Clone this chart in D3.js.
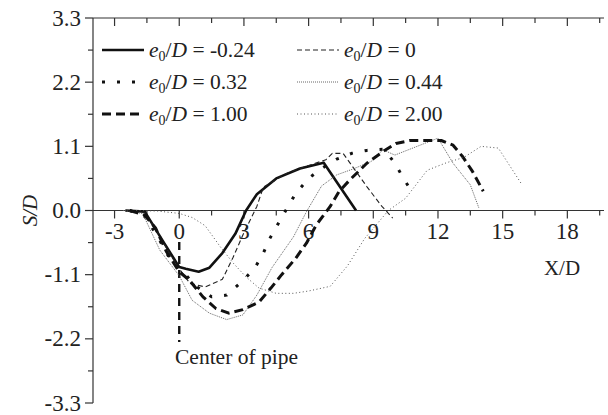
<!DOCTYPE html>
<html><head><meta charset="utf-8">
<script src="https://cdn.jsdelivr.net/npm/d3@7"></script>
<style>body{margin:0;background:#fff}svg{display:block}text{font-family:"Liberation Serif","Times New Roman",serif;fill:#222}</style>
</head><body><div id="chart"></div>
<script>
const xTicks = [-3,0,3,6,9,12,15,18];
const xMinor = [-3,-1.5,0,1.5,3,4.5,6,7.5,9,10.5,12,13.5,15,16.5,18,19.5];
const yTicks = [3.3,2.2,1.1,0,-1.1,-2.2,-3.3];
const yTickLabels = ["3.3","2.2","1.1","0.0","-1.1","-2.2","-3.3"];
const yMinor = [3.3,2.75,2.2,1.65,1.1,0.55,0,-0.55,-1.1,-1.65,-2.2,-2.75,-3.3];
const legendLabels = ["-0.24","0","0.32","0.44","1.00","2.00"];

const sNeg024 = [[-2.5,0],[-1.6,-0.02],[-0.8,-0.5],[0,-0.97],[0.3,-1.0],[0.9,-1.05],[1.4,-0.98],[2.0,-0.73],[2.6,-0.4],[3.1,0.0],[3.6,0.28],[4.5,0.55],[5.6,0.72],[6.7,0.82],[7.5,0.38],[8.2,0.0]];
const s0 = [[-2.5,0],[-1.6,-0.03],[-1.0,-0.38],[-0.5,-0.7],[0,-1.0],[0.5,-1.25],[1.2,-1.31],[2.0,-1.18],[2.5,-0.8],[3.0,-0.38],[3.6,0.07],[3.9,0.4],[5.0,0.64],[5.9,0.76],[6.8,0.87],[7.1,0.98],[7.6,0.98],[8.7,0.41],[9.4,0.07],[9.9,-0.13]];
const s032 = [[-2.3,0],[-1.6,-0.1],[-1.0,-0.45],[-0.4,-0.85],[0,-1.0],[0.3,-1.1],[0.7,-1.28],[1.5,-1.48],[2.2,-1.45],[2.9,-1.22],[3.5,-0.99],[3.9,-0.73],[4.2,-0.48],[4.6,-0.22],[5.0,0.04],[5.4,0.29],[6.0,0.55],[6.6,0.72],[7.3,0.88],[8.0,0.98],[8.7,1.03],[9.5,1.05],[10.0,0.81],[10.45,0.52],[10.9,0.26]];
const s044 = [[-2.6,0],[-1.7,-0.05],[-0.9,-0.68],[0,-1.12],[0.6,-1.54],[1.4,-1.76],[2.2,-1.87],[2.95,-1.79],[3.6,-1.45],[4.3,-0.98],[5.3,-0.45],[5.9,-0.02],[6.6,0.42],[7.3,0.61],[8.05,0.71],[8.9,0.84],[9.45,1.04],[10.0,0.95],[12.0,1.24],[12.7,0.81],[13.5,0.44],[13.9,0.04]];
const s100 = [[-2.3,0],[-1.6,-0.08],[-1.1,-0.3],[-0.6,-0.7],[0,-1.05],[0.46,-1.19],[1.1,-1.48],[1.7,-1.68],[2.3,-1.76],[2.95,-1.7],[3.7,-1.57],[4.25,-1.33],[4.75,-1.1],[5.4,-0.82],[5.9,-0.56],[6.35,-0.25],[7.0,0.07],[7.4,0.32],[7.9,0.52],[8.7,0.81],[9.45,1.01],[10.05,1.15],[10.7,1.2],[11.45,1.2],[12.15,1.2],[12.7,1.12],[13.15,0.92],[13.6,0.67],[14.1,0.33]];
const s200 = [[-2.0,0],[-1.0,-0.01],[0,-0.05],[0.6,-0.12],[1.2,-0.26],[1.9,-0.62],[2.5,-0.9],[3.1,-1.14],[3.7,-1.33],[4.5,-1.42],[5.3,-1.42],[6.0,-1.38],[7.0,-1.3],[7.8,-0.95],[8.6,-0.48],[9.7,0],[10.5,0.21],[11.5,0.69],[12.4,0.82],[13.2,0.91],[14.0,1.1],[14.8,1.07],[15.9,0.44]];
const seriesData = [sNeg024, s0, s032, s044, s100, s200];

const W = 608, H = 415;
const x = d3.scaleLinear().domain([-4, 19.7]).range([93, 604]);
const y = d3.scaleLinear().domain([-3.3, 3.3]).range([403, 18]);

const styles = [
  {w:2.6, dash:null, c:"#111"},
  {w:1.1, dash:"5,3", c:"#222"},
  {w:3, dash:"3,12", c:"#111"},
  {w:1, dash:"1,1", c:"#666"},
  {w:3, dash:"9,5", c:"#111"},
  {w:1, dash:"1,2.5", c:"#555"}
];

const svg = d3.select("#chart").append("svg").attr("width", W).attr("height", H);

const ax = svg.append("g").attr("stroke", "#333").attr("stroke-width", 1.2);
ax.append("line").attr("x1", x(-4)).attr("x2", x(-4)).attr("y1", y(3.3)).attr("y2", y(-3.3));
ax.append("line").attr("x1", x(-4)).attr("x2", x(19.7)).attr("y1", y(3.3)).attr("y2", y(3.3));
ax.append("line").attr("x1", x(-4)).attr("x2", x(19.7)).attr("y1", y(0)).attr("y2", y(0));

xMinor.forEach(v => {
  const major = xTicks.includes(v);
  const len = major ? 8 : 5;
  ax.append("line").attr("x1", x(v)).attr("x2", x(v)).attr("y1", y(3.3)).attr("y2", y(3.3) + len);
  ax.append("line").attr("x1", x(v)).attr("x2", x(v)).attr("y1", y(0)).attr("y2", y(0) + len);
});
yMinor.forEach(v => {
  const major = yTicks.some(t => Math.abs(t - v) < 1e-6);
  const len = major ? 8 : 5;
  ax.append("line").attr("x1", x(-4) - len).attr("x2", x(-4)).attr("y1", y(v)).attr("y2", y(v));
});

svg.append("g").selectAll("text").data(xTicks).join("text")
  .attr("x", d => x(d)).attr("y", y(0) + 28).attr("text-anchor", "middle")
  .attr("font-size", 23).text(d => d);
svg.append("g").selectAll("text").data(yTicks).join("text")
  .attr("x", 81).attr("y", d => y(d) + 7.5).attr("text-anchor", "end")
  .attr("font-size", 23).text((d, i) => yTickLabels[i]);

svg.append("text").attr("transform", `translate(37,${y(0)}) rotate(-90)`).attr("text-anchor", "middle")
  .attr("font-size", 21).attr("font-style", "italic").text("S/D");
svg.append("text").attr("x", 562).attr("y", 275).attr("text-anchor", "middle").attr("font-size", 21).text("X/D");

svg.append("line").attr("x1", x(0)).attr("x2", x(0)).attr("y1", 242).attr("y2", 342)
  .attr("stroke", "#111").attr("stroke-width", 2.4).attr("stroke-dasharray", "8,6");
svg.append("text").attr("x", 175).attr("y", 364).attr("font-size", 21.5).text("Center of pipe");

const line = d3.line().x(d => x(d[0])).y(d => y(d[1]));
seriesData.forEach((s, i) => {
  const st = styles[i];
  const p = svg.append("path").datum(s).attr("d", line).attr("fill", "none")
    .attr("stroke", st.c).attr("stroke-width", st.w).attr("stroke-linejoin", "round");
  if (st.dash) p.attr("stroke-dasharray", st.dash);
});

const legPos = [[102,50],[297,50],[102,82],[297,82],[102,114],[297,114]];
legendLabels.forEach((lab, i) => {
  const st = styles[i];
  const [lx, ly] = legPos[i];
  const l = svg.append("line").attr("x1", lx).attr("x2", lx + 42).attr("y1", ly).attr("y2", ly)
    .attr("stroke", st.c).attr("stroke-width", st.w);
  if (st.dash) l.attr("stroke-dasharray", st.dash);
  const t = svg.append("text").attr("x", lx + 47).attr("y", ly + 7).attr("font-size", 21.5);
  t.append("tspan").attr("font-style", "italic").text("e");
  t.append("tspan").attr("font-size", 14).attr("dy", 4).text("0");
  t.append("tspan").attr("dy", -4).text("/");
  t.append("tspan").attr("font-style", "italic").text("D");
  t.append("tspan").text(" = " + lab);
});
</script>
</body></html>
